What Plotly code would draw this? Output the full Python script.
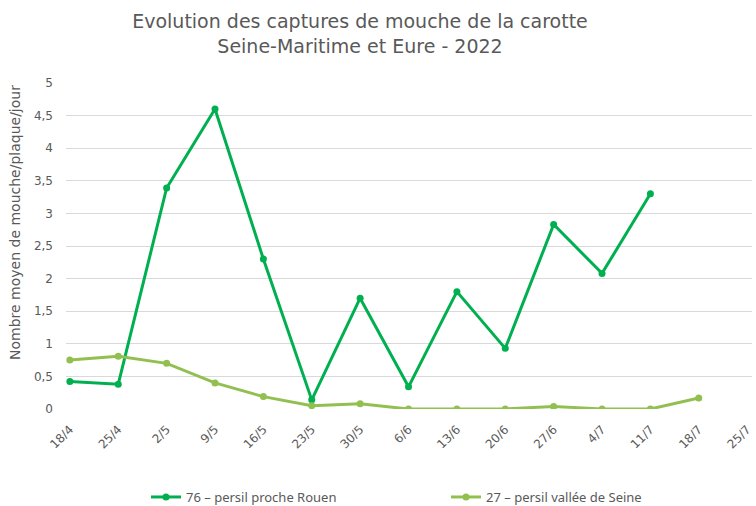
import plotly.graph_objects as go

categories = ["18/4", "25/4", "2/5", "9/5", "16/5", "23/5", "30/5", "6/6",
              "13/6", "20/6", "27/6", "4/7", "11/7", "18/7", "25/7"]
rouen = [0.42, 0.38, 3.39, 4.6, 2.3, 0.14, 1.7, 0.34, 1.8, 0.93, 2.83, 2.08, 3.3, None, None]
seine = [0.75, 0.81, 0.7, 0.4, 0.19, 0.05, 0.08, 0.0, 0.0, 0.0, 0.04, 0.0, 0.0, 0.17, None]
y_ticks = [0, 0.5, 1, 1.5, 2, 2.5, 3, 3.5, 4, 4.5, 5]
y_ticktext = ["0", "0,5", "1", "1,5", "2", "2,5", "3", "3,5", "4", "4,5", "5"]

GRAY = "#595959"

fig = go.Figure()
fig.add_trace(go.Scatter(x=categories, y=rouen, mode="lines+markers",
                         name="76 \u2013 persil proche Rouen",
                         line=dict(color="#00B050", width=3),
                         marker=dict(size=7, color="#00B050")))
fig.add_trace(go.Scatter(x=categories, y=seine, mode="lines+markers",
                         name="27 \u2013 persil vall\u00e9e de Seine",
                         line=dict(color="#92C050", width=3),
                         marker=dict(size=7, color="#92C050")))

fig.update_layout(
    width=756, height=506,
    paper_bgcolor="white", plot_bgcolor="white",
    margin=dict(l=66, r=4, t=83, b=97, autoexpand=False),
    font=dict(family="DejaVu Sans, Verdana, sans-serif", color=GRAY),
    title=dict(text="Evolution des captures de mouche de la carotte<br>Seine-Maritime et Eure - 2022",
               x=360 / 756, xanchor="center", xref="container", y=0.945, yanchor="top",
               font=dict(size=19, color=GRAY)),
    showlegend=True,
    legend=dict(orientation="h", x=(146 - 66) / 686, xanchor="left", y=-0.27, yanchor="middle",
                font=dict(family="Noto Sans, sans-serif", size=13, color=GRAY),
                entrywidth=255, entrywidthmode="pixels", bgcolor="rgba(0,0,0,0)"),
    xaxis=dict(type="category", range=[-0.08, 14.1], tickangle=-45, showgrid=False,
               showline=False, zeroline=False, automargin=False,
               tickfont=dict(size=12, color=GRAY), ticks="", ticklabelstandoff=10),
    yaxis=dict(range=[0, 5], tickvals=y_ticks, ticktext=y_ticktext, automargin=False,
               showgrid=True, gridcolor="#D9D9D9", gridwidth=1, zeroline=False,
               tickfont=dict(size=12, color=GRAY), ticks="", ticklabelstandoff=12),
    annotations=[dict(text="Nombre moyen de mouche/plaque/jour", textangle=-90,
                      xref="paper", yref="paper", x=(15 - 66) / 686, y=(409 - 223) / 326,
                      xanchor="center", yanchor="middle", showarrow=False,
                      font=dict(size=14, color=GRAY))],
)
fig.write_html("out.html", config={"displayModeBar": False},
               post_script="document.body.style.margin='0';")
